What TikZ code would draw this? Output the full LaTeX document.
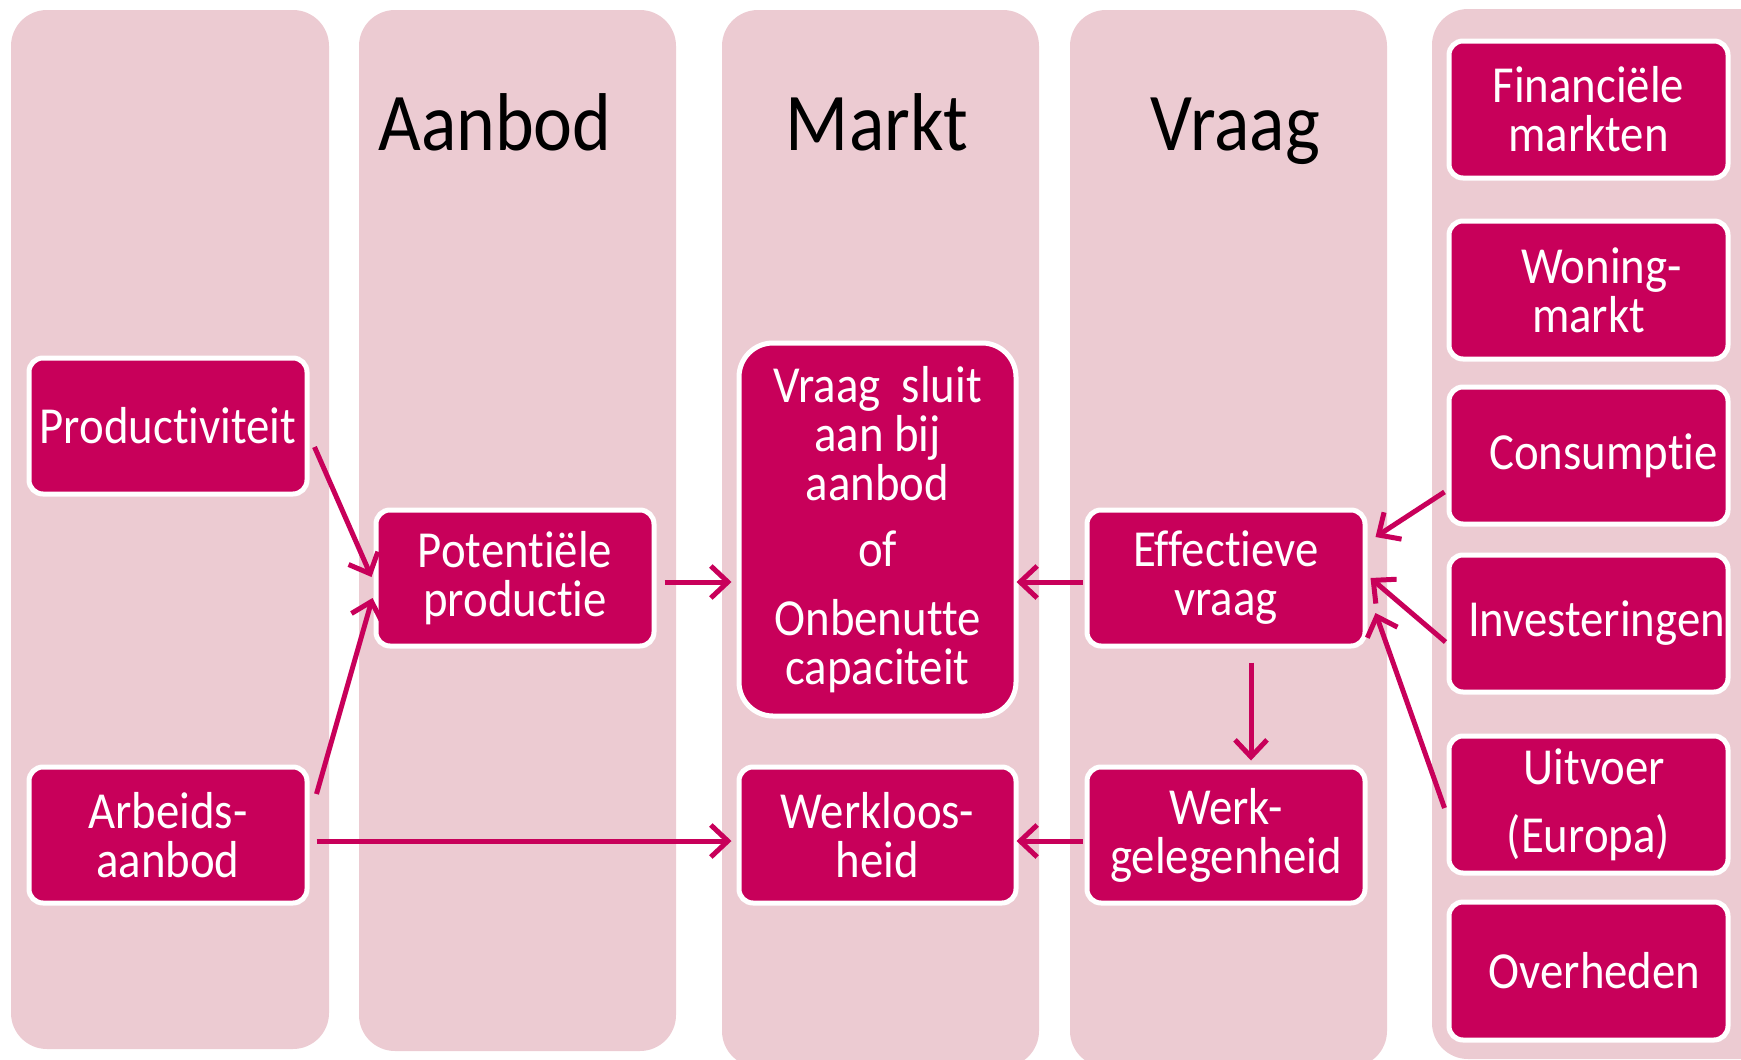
\documentclass[tikz,border=0pt]{standalone}
\usepackage{fontspec}
\setmainfont{Carlito}[FakeStretch=0.9, RawFeature={-liga;-calt;-clig;-dlig}]
\usetikzlibrary{arrows.meta,calc}
\definecolor{mag}{RGB}{200,0,90}
\definecolor{colbg}{RGB}{236,203,210}
\tikzset{
  colbox/.style={fill=colbg, rounded corners=36pt},
  box/.style={draw=white, line width=5pt, fill=mag, rounded corners=14pt, text=white,
    align=center, minimum width=278pt, minimum height=136pt, inner sep=0pt,
    font=\fontsize{52}{49}\selectfont},
  header/.style={anchor=base, text=black, inner sep=0pt, font=\fontsize{82}{90}\selectfont},
  conn/.style={draw=mag, line width=5pt, -{Straight Barb[length=17pt,width=32pt]}}
}
\begin{document}
\begin{tikzpicture}[x=1pt,y=-1pt]
\useasboundingbox (0,0) rectangle (1741,1060);
\clip (0,0) rectangle (1741,1060);
% columns
\fill[colbox] (11,10) rectangle (329,1049);
\fill[colbox] (359,10) rectangle (676,1051);
\fill[colbox] (722,10) rectangle (1039,1067);
\fill[colbox] (1070,10) rectangle (1387,1067);
\fill[colbox] (1432,9) rectangle (1800,1059);
% headers
\node[header] (hA) at (495,150) {Aanbod};
\node[header] (hM) at (877,150) {Markt};
\node[header] (hV) at (1235,150) {Vraag};
% boxes
\node[box] (prod) at (168,426) {Productiviteit};
\node[box] (arb) at (168,835) {Arbeids-\\aanbod};
\node[box] (pot) at (515,578) {Potentiële\\productie};
\node[box, minimum width=277pt, minimum height=373pt, rounded corners=34pt] (mkt) at (877.5,529.5)
  {Vraag\ \ sluit\\aan bij\\aanbod\\[17pt]of\\[20pt]Onbenutte\\capaciteit};
\node[box, minimum width=277pt] (werkl) at (877.5,835) {Werkloos-\\heid};
\node[box] (eff) at (1226,578) {Effectieve\\vraag};
\node[box] (werkg) at (1226,835) {Werk-\\gelegenheid};
\node[box, minimum width=279pt, minimum height=137pt] (fin) at (1588.5,109.5) {Financiële\\markten};
\node[box, minimum width=279pt, minimum height=138pt] (won) at (1588.5,290) {\hspace*{26pt}Woning-\\markt};
\node[box, minimum width=279pt, minimum height=137pt] (cons) at (1588.5,455.5) {\hspace*{30pt}Consumptie};
\node[box, minimum width=279pt, minimum height=137pt] (inv) at (1588.5,623.5) {\hspace*{16pt}Investeringen};
\node[box, minimum width=279pt, minimum height=137pt] (uit) at (1588.5,804.5) {\hspace*{12pt}Uitvoer\\[19pt](Europa)};
\node[box, minimum width=279pt, minimum height=138pt] (ovh) at (1588.5,971) {\hspace*{12pt}Overheden};
% connectors
\draw[conn] ($(prod.east)+(5,21)$) -- ($(pot.west)+(-2,-1)$);
\draw[conn] ($(arb.east)+(7,-41)$) -- ($(pot.west)+(-1,20)$);
\draw[conn] ($(pot.east)+(8,4)$) -- ($(mkt.west)+(-5,52.5)$);
\draw[conn] ($(arb.east)+(7,6)$) -- ($(werkl.west)+(-5,6)$);
\draw[conn] ($(eff.west)+(-2,4)$) -- ($(mkt.east)+(-2,52.5)$);
\draw[conn] ($(werkg.west)+(-2,6)$) -- ($(werkl.east)+(-2,6)$);
\draw[conn] ($(eff.south)+(25,14)$) -- ($(werkg.north)+(25,-4)$);
\draw[conn] ($(cons.west)+(-2,36.5)$) -- ($(eff.east)+(8,-41)$);
\draw[conn] ($(inv.west)+(-1,18.5)$) -- ($(eff.east)+(3,0)$);
\draw[conn] ($(uit.west)+(-2,3.5)$) -- ($(eff.east)+(8,35)$);
\end{tikzpicture}
\end{document}
